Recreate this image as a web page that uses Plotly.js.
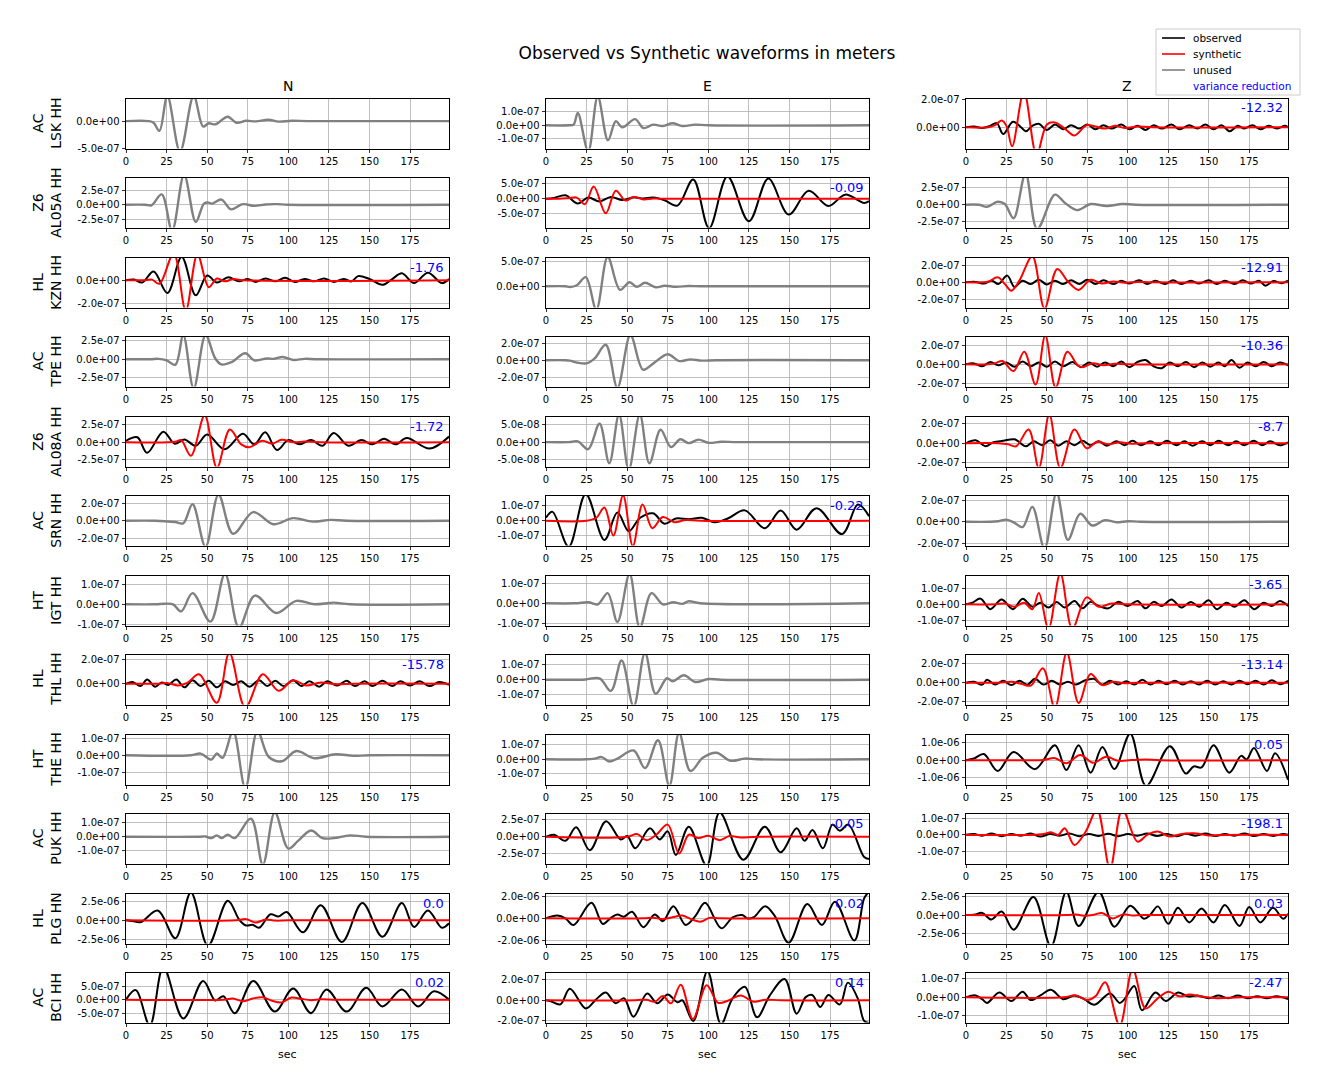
<!DOCTYPE html>
<html><head><meta charset="utf-8">
<script src="https://cdn.plot.ly/plotly-3.0.1.min.js"></script>
<style>html,body{margin:0;padding:0;background:#fff}#chart{width:1329px;height:1091px}</style>
</head><body><div id="chart"></div>
<script>
// ---------------- DATA ----------------
const COMPONENTS = ['N','E','Z'];
const NETWORKS = ['AC','Z6','HL','AC','Z6','AC','HT','HL','HT','AC','HL','AC'];
const STATIONS = ['LSK','AL05A','KZN','TPE','AL08A','SRN','IGT','THL','THE','PUK','PLG','BCI'];
const CHANNELS = ['HH','HH','HH','HH','HH','HH','HH','HH','HH','HH','HN','HH'];
const X_TICKS = [0,25,50,75,100,125,150,175];
const VR_TEXT = [['','','-12.32'],['','-0.09',''],['-1.76','','-12.91'],['','','-10.36'],['-1.72','','-8.7'],['','-0.22',''],['','','-3.65'],['-15.78','','-13.14'],['','','0.05'],['','-0.05','-198.1'],['0.0','0.02','0.03'],['0.02','0.14','-2.47']];
const UNIT = [[1e-7,1e-7,1e-7],[1e-7,1e-7,1e-7],[1e-7,1e-7,1e-7],[1e-7,1e-7,1e-7],[1e-7,1e-7,1e-7],[1e-7,1e-7,1e-7],[1e-7,1e-7,1e-7],[1e-7,1e-7,1e-7],[1e-7,1e-7,1e-6],[1e-7,1e-7,1e-7],[1e-6,1e-6,1e-6],[1e-7,1e-7,1e-7]];
const Y_LO = [[-5.05,-1.70,-1.56],[-3.97,-9.67,-3.38],[-2.35,-4.2,-3.0],[-3.65,-3.06,-2.3],[-3.43,-0.69,-2.36],[-2.86,-1.67,-2.23],[-1.05,-1.1,-1.31],[-1.75,-1.67,-2.26],[-1.7,-1.72,-1.37],[-1.93,-3.97,-1.7],[-3.1,-2.27,-3.9],[-8.4,-2.15,-1.35]];
const Y_HI = [[4.07,1.93,2.07],[4.66,7.0,3.97],[1.91,5.6,2.9],[2.97,2.7,2.84],[3.57,0.71,2.67],[2.86,1.67,2.42],[1.4,1.35,1.75],[2.42,1.67,2.87],[1.18,1.66,1.43],[1.64,3.38,1.24],[3.5,2.2,2.9],[9.8,2.63,1.3]];
const Y_STEP = [[5,1,2],[2.5,5,2.5],[2,5,2],[2.5,2,2],[2.5,0.5,2],[2,1,2],[1,1,1],[2,1,2],[1,1,1],[1,2.5,1],[2.5,2,2.5],[5,2,1]];

// waveforms: [time s, amplitude in panel units]
const LSK_N_obs = [[0,0],[14,0],[17,-0.3],[20.6,-1.8],[25.5,4.6],[33.3,-5.6],[41.7,4.6],[47.5,-1.0],[51,-0.4],[55,-0.6],[62.7,0.8],[68,-0.3],[74,0.05],[80,-0.05],[87.7,0.25],[94,-0.1],[102,0.05],[112,0],[199,0]];
const LSK_E_obs = [[0,0],[14,0],[17,0.05],[19.6,0.9],[26,-1.9],[31.9,2.1],[38.2,-1.1],[43,0.3],[47,-0.15],[54.9,0.45],[60,-0.2],[66,0.05],[72,-0.05],[78,0.15],[84,-0.05],[92,0.05],[100,0],[199,0]];
const LSK_Z_obs = [[0,0],[5,0.05],[10,-0.05],[15,0.1],[19,0.3],[23,-0.5],[29,0.4],[34,0.0],[37,-0.3],[41,0.1],[45,0.25],[50,-0.2],[55,0.2],[60,-0.15],[65,0.15],[70,-0.1],[75,0.2],[80,-0.15],[85,0.15],[90,-0.1],[96,0.2],[101,-0.15],[106,0.1],[111,-0.2],[116,0.15],[121,-0.1],[127,0.2],[132,-0.15],[138,0.15],[143,-0.1],[148,0.2],[153,-0.15],[158,0.15],[163,-0.3],[168,0.1],[172,-0.1],[177,0.15],[182,-0.15],[187,0.1],[192,-0.1],[197,0.1],[199,0]];
const LSK_Z_syn = [[0,0],[14,0],[18,0.15],[22,0.5],[25,0.1],[28.5,-1.4],[35.8,2.6],[43.6,-2.0],[50,0.2],[55,0.35],[61,-0.1],[67,-0.6],[74.5,0.15],[80,0.05],[86,-0.1],[92,0.1],[98,-0.05],[106,0.05],[115,0],[199,0]];

const AL05A_N_obs = [[0,0],[12,0],[15.7,-0.1],[22,1.8],[28.4,-4.5],[35.8,5.2],[43,-3.0],[48,0.2],[50.5,0.4],[53,0.2],[58.8,0.9],[64.7,-0.8],[72,0.1],[79,-0.2],[86,0.05],[93,0.1],[100,0],[199,0]];
const AL05A_E_obs = [[0,0],[5,0.3],[12,1.2],[19.6,-1.6],[26,0.4],[33,-0.9],[40,0.6],[47,-0.4],[54,0.5],[60,0.1],[66,0.4],[73,-0.5],[81,-2.3],[90.7,6.5],[100.5,-9.9],[111.8,7.5],[125,-7.6],[137,6.8],[149.5,-5.3],[161.8,2.7],[174,-2.4],[184.3,1.4],[196,-1.4],[199,-0.8]];
const AL05A_E_syn = [[0,0],[8,0],[14,0.2],[19,0.4],[24,-1.8],[29.4,4.1],[36.8,-4.9],[43,2.7],[49,-0.6],[54,0.6],[60,-0.2],[66,0.1],[72,0],[199,0]];
const AL05A_Z_obs = [[0,0],[8,0],[13,-0.3],[19.6,0.45],[24,0.1],[29.4,-2.0],[36.8,4.6],[44,-3.6],[55,1.5],[61,0.3],[68.6,-0.8],[77,0.1],[87,-0.2],[96.6,0.1],[105,0],[199,0]];

const KZN_N_obs = [[0,0],[5,0.05],[10,-0.2],[17,0.75],[25.5,-1.1],[34.3,2.0],[43,-1.3],[50,0.4],[56,-0.2],[63,0.25],[69.6,-0.1],[75,0.1],[80,-0.15],[86,0.15],[92,-0.1],[98,0.2],[104,-0.15],[110,0.1],[116,-0.1],[122,0.15],[128,-0.15],[134,0.1],[139,-0.1],[143,0.35],[150,0.1],[158,-0.4],[164,0.1],[170,0.6],[177.5,-0.25],[186,0.65],[194.6,-0.25],[199,0.1]];
const KZN_N_syn = [[0,0],[12,0],[16,0.05],[20.6,-0.3],[29.4,2.3],[36.8,-2.6],[44,2.2],[51,-0.6],[56,0.15],[61,-0.1],[66,0.1],[72,0],[199,0]];
const KZN_E_obs = [[0,0],[12,0],[14.7,-0.15],[19,0.2],[24.5,1.8],[31,-4.6],[38,5.8],[45.6,-0.7],[51.5,0.8],[56,-0.1],[61,0.7],[67.6,-0.2],[73,0.1],[80,-0.1],[88,0.05],[95,0],[199,0]];
const KZN_Z_obs = [[0,0],[6,0.05],[11,-0.15],[16,0.2],[20,-0.2],[25.5,0.8],[30,-0.55],[35,0.2],[40,-0.2],[45,0.3],[50,-0.25],[55,0.2],[60,-0.2],[65,0.25],[70,-0.2],[75,0.3],[80,-0.2],[85,0.25],[91,-0.2],[96,0.2],[101,-0.15],[107,0.25],[112,-0.2],[117,0.2],[123,-0.2],[128,0.25],[133,-0.2],[139,0.2],[144,-0.15],[150,0.25],[155,-0.2],[160,0.2],[166,-0.2],[171,0.25],[176,-0.15],[181,0.2],[185,-0.4],[190,0.15],[195,-0.1],[199,0.2]];
const KZN_Z_syn = [[0,0],[10,0],[14,0.1],[19.6,0.6],[24,-0.2],[28,-1.0],[33,0.2],[41,3.1],[48.5,-3.1],[56.4,1.6],[63,0.1],[69.6,-0.9],[77,0.3],[84,-0.15],[91,0.1],[98,-0.05],[106,0.05],[115,0],[199,0]];

const TPE_N_obs = [[0,0],[15,0],[20,0.05],[25,-0.15],[30.4,-0.75],[35.3,3.2],[41.7,-3.9],[49,3.2],[55,0.1],[58.8,-0.7],[65,-0.4],[73.5,0.8],[79,-0.15],[86.8,0.1],[91,0.05],[96.6,0.3],[103,-0.1],[110,0.05],[118,0],[199,0]];
const TPE_E_obs = [[0,0],[12,0],[14.7,-0.05],[19.6,-0.3],[25.5,-0.35],[30,0.2],[36.8,1.8],[44,-3.2],[52,2.9],[59.8,-1.1],[66,-0.4],[75,0.7],[82,-0.1],[89,0.1],[96,-0.05],[105,0],[199,0]];
const TPE_Z_obs = [[0,0],[5,0.1],[10,-0.2],[15,0.25],[20,-0.1],[25,0.2],[30,-0.25],[35,0.3],[40,-0.2],[45,0.2],[50,-0.25],[55,0.3],[60,-0.2],[66,0.25],[71,-0.3],[76,0.2],[81,-0.25],[86,0.2],[91,-0.2],[96,0.3],[101,-0.3],[106,0.25],[111,0.45],[116,-0.2],[121,-0.4],[126,0.2],[131,-0.2],[136,0.25],[141,-0.3],[146,0.2],[151,-0.25],[156,0.2],[160,-0.2],[164,0.45],[169,-0.35],[174,0.2],[179,-0.2],[184,0.25],[189,-0.2],[194,0.2],[199,-0.1]];
const TPE_Z_syn = [[0,0],[14,0],[18,0.1],[22.5,0.35],[29.4,-0.7],[36,1.3],[43,-2.1],[49,3.0],[55.4,-2.4],[62.7,1.3],[69,-0.1],[72,-0.3],[78,0.1],[85,-0.1],[92,0.05],[100,0],[199,0]];

const AL08A_N_obs = [[0,0.2],[7,0.7],[13,-1.5],[23,1.5],[30,-0.2],[36,0.4],[43,-0.5],[50,1.1],[60.8,-1.0],[72,1.2],[79,-0.3],[85.8,1.4],[93,-1.1],[100,0.3],[107,-0.3],[114,0.3],[121,-0.5],[128,1.3],[137,-0.5],[145,0.3],[152,-0.3],[159,0.5],[166,-0.3],[173,0.6],[187,-0.9],[199,0.8]];
const AL08A_N_syn = [[0,0],[26,0],[31,0.1],[34,0.3],[40,-1.9],[48.5,3.8],[56,-3.6],[64,1.8],[71,-0.3],[76,-0.7],[84,0.2],[90,-0.2],[96,0.35],[103,0.0],[110,0.1],[120,0],[199,0]];
const AL08A_E_obs = [[0,0],[14,0],[19.6,0.02],[26,-0.2],[33,0.52],[39,-0.6],[45,0.78],[51,-0.78],[57.8,0.78],[63.7,-0.6],[70.6,0.35],[77,-0.14],[82.8,0.08],[88,-0.03],[94,0.07],[100,-0.02],[108,0.01],[118,0],[199,0]];
const AL08A_Z_obs = [[0,0],[6,0.3],[12,-0.3],[17,0.1],[23,0.25],[30,0.4],[37,-0.3],[42,0.2],[47,-0.2],[52,0.3],[57,-0.25],[62,0.2],[67,-0.2],[72,0.25],[77,-0.2],[82,0.2],[87,-0.25],[93,0.2],[98,-0.2],[103,0.25],[108,-0.2],[114,0.2],[119,-0.2],[124,0.25],[130,-0.2],[135,0.2],[140,-0.25],[146,0.2],[151,-0.2],[156,0.25],[162,-0.2],[167,0.2],[172,-0.2],[178,0.25],[183,-0.2],[188,0.2],[194,-0.2],[199,0.1]];
const AL08A_Z_syn = [[0,0],[20,0],[26,-0.1],[31,-0.3],[38.7,1.4],[45,-2.5],[51.5,2.9],[58.3,-2.5],[67,1.4],[74.5,-0.5],[81,0.15],[88,-0.1],[95,0.1],[102,-0.05],[110,0],[199,0]];

const SRN_N_obs = [[0,0],[18,0],[24,-0.05],[30.4,-0.15],[35.3,-0.3],[41,1.9],[49,-3.0],[57,3.0],[66,-1.5],[78.4,1.0],[90.7,-0.4],[103,0.3],[115,-0.1],[126,0.1],[136,0],[199,0]];
const SRN_E_obs = [[0,0.2],[4,0.6],[14,-1.75],[24.5,1.8],[36,-1.3],[44,0.55],[51,-0.7],[58,0.2],[66,0.5],[73,-0.2],[80,0.15],[88,0.1],[96,0.2],[104,-0.1],[112,0.15],[122.5,0.7],[134.8,-0.5],[144.6,0.7],[154.4,-0.6],[166.7,0.85],[182.4,-0.9],[192.2,1.1],[199,0.3]];
const SRN_E_syn = [[0,0],[25,0],[31,0.2],[36,0.9],[41.5,-1.0],[47.5,1.7],[53.5,-1.7],[59.5,1.1],[65.5,-0.5],[72,0.25],[79,-0.1],[86,0.05],[95,0],[199,0]];
const SRN_Z_obs = [[0,0],[15,0],[20,0.05],[25,0.2],[30,-0.1],[35,-0.5],[41,1.4],[48.5,-2.5],[56,2.7],[63,-1.7],[70.6,0.75],[78,-0.35],[85.8,0.15],[93,-0.05],[100,0.05],[108,0],[199,0]];

const IGT_N_obs = [[0,0],[18,0],[24,0.03],[29,0],[34,-0.35],[41,0.55],[52,-0.86],[61,1.5],[69.6,-1.15],[79.4,0.43],[92.6,-0.43],[104.9,0.17],[116,0],[128,0.08],[138,0],[199,0]];
const IGT_E_obs = [[0,0],[18,0],[26,0.05],[32,-0.05],[38,0.5],[44,-0.92],[51.5,1.45],[57.8,-1.2],[65,0.5],[72,-0.05],[78.4,0.05],[84,-0.03],[88,0.1],[95,0],[199,0]];
const IGT_Z_obs = [[0,0],[4,0.1],[9,0.35],[15,-0.3],[22,0.3],[29,-0.3],[35,0.35],[41,-0.15],[46,0.1],[51,-0.2],[56,0.15],[61,-0.2],[67,0.2],[72,-0.25],[77,0.15],[82,-0.1],[88,-0.25],[94,0.15],[100,-0.1],[106,0.2],[111,-0.25],[116,0.15],[121,-0.1],[127,0.3],[133,-0.2],[139,0.15],[144,-0.15],[150,0.25],[155,-0.3],[161,0.1],[166,-0.15],[172,0.25],[178,-0.3],[184,0.1],[189,-0.1],[194,0.2],[199,-0.1]];
const IGT_Z_syn = [[0,0],[18,0],[24,0.05],[30,-0.15],[36,0.1],[41,-0.3],[45,0.7],[51,-1.5],[58.3,1.9],[65.7,-1.5],[74.5,0.43],[82,-0.15],[90,0.05],[100,0],[199,0]];

const THL_N_obs = [[0,0],[4,0.15],[9,-0.2],[13,0.35],[18,-0.25],[22,0.1],[26,-0.1],[31,0.35],[36,-0.3],[41,0.3],[46,-0.2],[51,0.25],[56,-0.3],[61,0.2],[66,-0.1],[71,0.2],[76,-0.25],[82,0.3],[87,-0.2],[92,0.25],[97,-0.2],[103,0.3],[108,-0.2],[113,0.2],[119,-0.25],[124,0.2],[130,-0.15],[136,0.25],[141,-0.2],[147,0.2],[152,-0.2],[158,0.25],[164,-0.2],[169,0.2],[175,-0.15],[181,0.2],[187,-0.2],[193,0.15],[199,-0.1]];
const THL_N_syn = [[0,0],[20,0],[26,0.05],[32,-0.15],[38,0.1],[45,0.8],[55.9,-1.6],[63.7,2.6],[73.5,-2.0],[84.3,0.8],[94,-0.6],[103,0.3],[111,-0.15],[120,0.1],[130,-0.05],[140,0],[199,0]];
const THL_E_obs = [[0,0],[20,0],[24.5,0.02],[33,0.1],[40,-0.75],[46.6,1.3],[54,-1.8],[61,1.8],[67.6,-0.95],[74.5,0.1],[78,-0.1],[85,0.3],[92,-0.15],[100,0.05],[108,0],[199,0]];
const THL_Z_obs = [[0,0],[5,0.1],[10,-0.2],[13,0.3],[18,-0.2],[23,0.2],[28,-0.25],[33,0.2],[38,-0.2],[42.6,0.4],[48,-0.2],[53,0.2],[58,-0.2],[63,0.1],[68,-0.2],[73,0.2],[79,0.4],[84,-0.2],[89,0.2],[94,-0.2],[99,0.15],[104,-0.2],[109,0.3],[114,-0.2],[119,0.2],[124,-0.15],[129,0.2],[134,-0.2],[139,0.15],[144,-0.2],[149,0.2],[154,-0.2],[159,0.15],[164,-0.2],[169,0.2],[174,-0.15],[179,0.2],[184,-0.2],[189,0.25],[194,-0.15],[199,0.2]];
const THL_Z_syn = [[0,0],[20,0],[28,0.1],[34,-0.1],[40,-0.3],[47.5,1.5],[54.9,-2.6],[62.3,3.1],[69.6,-2.1],[77,0.9],[84.3,-0.25],[91,0.1],[98,-0.05],[106,0],[199,0]];

const THE_N_obs = [[0,0],[40,0],[46,0.1],[52.5,-0.25],[56,0.1],[59.5,-0.15],[66,1.4],[73.5,-1.9],[81,1.4],[88,-0.1],[96,-0.35],[105,0.25],[116,-0.17],[129,0.06],[140,-0.03],[150,0],[199,0]];
const THE_E_obs = [[0,0],[25,0],[30,0.05],[34.3,0.15],[39,-0.15],[44,0.05],[54,0.6],[61,-0.6],[69,1.3],[76,-1.8],[82,1.8],[89,-0.8],[96.6,0.1],[105,0.45],[113.7,-0.1],[122.5,0.05],[130,0],[199,0]];
const THE_Z_obs = [[0,0],[5,0.1],[11,0.35],[19.6,-0.6],[29.4,0.47],[42.6,-0.5],[55,0.85],[62,-0.55],[69.6,0.85],[77,-0.7],[84.3,0.75],[91.7,-0.5],[101.5,1.5],[111.3,-1.45],[126,0.8],[135.8,-0.75],[140.7,-0.35],[145.6,-0.4],[153,0.85],[162.7,-0.7],[170,0.25],[173.5,0.05],[178,0.7],[186,-0.6],[191,0.4],[199,-1.1]];
const THE_Z_syn = [[0,0],[40,0],[48,0.02],[55,0.12],[62,-0.17],[70.6,0.3],[78.4,-0.14],[86.8,0.2],[94,-0.03],[102,0.01],[111,0.04],[120,0],[199,0]];

const PUK_N_obs = [[0,0],[45,0],[49,0.02],[52.5,-0.1],[56,0.1],[59,-0.1],[62.7,0.15],[67,-0.1],[77,1.3],[84.3,-2.0],[91.7,1.75],[100,-0.85],[106,-0.3],[114,0.45],[121,-0.1],[128,-0.1],[138,0.1],[148,0],[199,0]];
const PUK_E_obs = [[0,0],[5,0.3],[12,-0.6],[18.6,1.4],[27,-2.0],[37,2.3],[46,-0.4],[50,0.1],[55,-1.7],[64,1.25],[70,-0.4],[75,0.8],[80,-2.7],[88,1.5],[99,-4.3],[107,3.6],[121.6,-3.4],[134.8,1.5],[144.6,-2.3],[154.4,1.25],[159.3,-0.6],[164.2,1.0],[170.6,-1.7],[176.5,1.8],[181,0.9],[186.3,1.8],[196,-3.0],[199,-3.3]];
const PUK_E_syn = [[0,0],[50,0],[56,0.4],[62,-0.5],[68,0.3],[75,1.8],[82,-2.5],[88,0.3],[94,-0.2],[100,0.15],[107,-0.5],[113,0.1],[120,-0.1],[130,0],[199,0]];
const PUK_Z_obs = [[0,0],[5,0.05],[10,-0.05],[16,0.08],[22,-0.08],[28,0.05],[34,-0.05],[40,0.08],[46,-0.1],[52,0.05],[58,-0.05],[64,0.08],[70,-0.08],[76,0.05],[82,-0.06],[88,0.06],[94,-0.08],[100,0.05],[106,-0.05],[112,0.08],[118,-0.06],[124,0.05],[130,-0.08],[136,0.06],[142,-0.05],[148,0.08],[154,-0.06],[160,0.05],[166,-0.05],[172,0.08],[178,-0.06],[184,0.05],[190,-0.06],[196,0.05],[199,0]];
const PUK_Z_syn = [[0,0],[40,0],[48,0.05],[52.5,0.15],[57,0.0],[61,0.4],[67,-0.6],[74,0.2],[81,1.5],[89,-2.0],[96.6,1.5],[106,-0.4],[112,0.0],[118.6,0.2],[126,-0.1],[133,0.05],[140.7,0.1],[150,-0.03],[160,0],[199,0]];

const PLG_N_obs = [[0,0],[4,-0.1],[9,-0.25],[19.6,1.3],[30.4,-2.4],[40,3.7],[50.5,-3.4],[62.7,2.6],[70,0.0],[74,-0.7],[78,-0.6],[82,-1.0],[89,0.8],[94,0.5],[99,1.1],[109,-1.6],[120,2.0],[133,-2.9],[145.6,2.3],[158,-2.2],[170,2.3],[177.5,-0.9],[186,1.3],[194.6,-1.0],[199,-0.4]];
const PLG_N_syn = [[0,0],[68,0],[74,0.15],[80,-0.3],[86,0.1],[92,-0.05],[100,0],[199,0]];
const PLG_E_obs = [[0,0],[7,0.25],[12,0.0],[17,-0.6],[28,1.4],[35,-0.5],[40,0.05],[44,0.35],[48,0.15],[53,0.6],[60,-0.8],[67,0.35],[72,-0.25],[78.5,1.1],[86,-0.6],[92,0.2],[98,1.4],[108,-0.9],[115,0.1],[121,0.3],[124,0.0],[128,0.1],[135,1.1],[141,0.2],[149.5,-2.2],[161,1.3],[170,-0.6],[178,1.5],[190,-2.0],[196,1.8],[199,2.4]];
const PLG_E_syn = [[0,0],[60,0],[66,0.05],[72,-0.05],[78,0.1],[84,0.25],[90,-0.1],[95,-0.3],[101,0.05],[108,0],[199,0]];
const PLG_Z_obs = [[0,0],[5,0.05],[10,0.3],[15.7,-0.6],[22,0.5],[29.4,-2.0],[41.7,2.5],[52.5,-4.3],[62,3.2],[69.6,-1.5],[82,3.2],[91.7,-1.6],[101.5,1.3],[110,-0.5],[113.7,0.0],[118.6,1.2],[125,-1.2],[131,1.0],[138,-1.0],[145.6,0.9],[153,-1.0],[160,1.4],[169,-1.5],[175,1.1],[182,-1.0],[189.7,1.0],[196,-0.5],[199,0.2]];
const PLG_Z_syn = [[0,0],[62,0],[68,0.08],[74,-0.1],[79,0.05],[84,0.3],[90.7,-0.45],[97,0.1],[103,-0.05],[110,0],[199,0]];

const BCI_N_obs = [[0,0],[6,3.5],[14.7,-9.5],[23,12],[35.3,-6.9],[47.5,6.9],[55,-0.3],[60,1.25],[67,-5.0],[78.4,6.9],[91.7,-4.4],[103,4.1],[114,-5.0],[123.5,3.75],[136,-4.4],[148,4.4],[158,-2.5],[170,3.75],[180,-2.5],[189.7,3.1],[199,0]];
const BCI_N_syn = [[0,0],[60,0],[66,0.4],[72,-0.6],[78,0.4],[84,0.9],[90,-0.4],[96,-1.0],[102,0.8],[108,0.3],[114,-0.2],[120,0.15],[130,0],[199,0]];
const BCI_E_obs = [[0,0],[3,-0.1],[8.8,-0.4],[14.7,1.1],[24.5,-0.8],[31,0.1],[36.8,0.75],[43,-0.3],[48,0.2],[53.9,-1.6],[62.3,0.65],[68.6,-0.3],[75,0.55],[81,-0.2],[84,0.0],[90.7,-2.0],[99.5,2.8],[107.8,-2.3],[115,0.2],[122.5,1.3],[130,-1.65],[138,0.5],[147,2.05],[154.4,-1.3],[160,0.3],[164,0.5],[169,-0.65],[174,0.5],[181,-0.4],[186,1.7],[192,0.2],[196,-2.0],[199,-2.2]];
const BCI_E_syn = [[0,0],[55,0],[62,0.05],[67,-0.15],[72,0.4],[77,-0.3],[83,1.5],[90.5,-1.8],[99,1.45],[106,-0.25],[112,-0.05],[120,0.45],[128,-0.15],[135,0.05],[145,0],[199,0]];
const BCI_Z_obs = [[0,0],[6,0.1],[10,-0.1],[13,-0.3],[20.6,0.25],[28,-0.2],[35,0.3],[40,-0.15],[46,0.1],[52.5,0.4],[60,-0.1],[67,0.1],[73,-0.1],[79.4,-0.4],[89,0.2],[95,-0.3],[98,-0.1],[104,0.6],[108.8,-0.7],[117,0.25],[123.5,-0.2],[131,0.25],[137,0.05],[143,0.1],[150,-0.05],[156,0.1],[162,-0.05],[168,0.1],[174,-0.05],[180,0.05],[186,-0.05],[192,0.05],[199,-0.1]];
const BCI_Z_syn = [[0,0],[60,0],[68,0.1],[75,-0.15],[80,0.05],[86,0.8],[95,-1.5],[103,1.5],[111,-0.6],[118,-0.1],[125,0.3],[132,0.05],[138,0.15],[145,0.05],[155,-0.05],[170,0],[199,0]];

const OBS = [
  [LSK_N_obs, LSK_E_obs, LSK_Z_obs],
  [AL05A_N_obs, AL05A_E_obs, AL05A_Z_obs],
  [KZN_N_obs, KZN_E_obs, KZN_Z_obs],
  [TPE_N_obs, TPE_E_obs, TPE_Z_obs],
  [AL08A_N_obs, AL08A_E_obs, AL08A_Z_obs],
  [SRN_N_obs, SRN_E_obs, SRN_Z_obs],
  [IGT_N_obs, IGT_E_obs, IGT_Z_obs],
  [THL_N_obs, THL_E_obs, THL_Z_obs],
  [THE_N_obs, THE_E_obs, THE_Z_obs],
  [PUK_N_obs, PUK_E_obs, PUK_Z_obs],
  [PLG_N_obs, PLG_E_obs, PLG_Z_obs],
  [BCI_N_obs, BCI_E_obs, BCI_Z_obs]
];
const SYN = [
  [null, null, LSK_Z_syn],
  [null, AL05A_E_syn, null],
  [KZN_N_syn, null, KZN_Z_syn],
  [null, null, TPE_Z_syn],
  [AL08A_N_syn, null, AL08A_Z_syn],
  [null, SRN_E_syn, null],
  [null, null, IGT_Z_syn],
  [THL_N_syn, null, THL_Z_syn],
  [null, null, THE_Z_syn],
  [null, PUK_E_syn, PUK_Z_syn],
  [PLG_N_syn, PLG_E_syn, PLG_Z_syn],
  [BCI_N_syn, BCI_E_syn, BCI_Z_syn]
];

// ---------------- LAYOUT ----------------
const W = 1329, H = 1091;
const COL_L = [126, 546, 966], COL_R = [449, 869, 1288];
const ROW_T = [99,178,258,337,417,496,576,655,735,814,894,973];
const ROW_H = 49.5;
const FONT = 'DejaVu Sans, Liberation Sans, sans-serif';

function fx(px){ return px / W; }
function fy(py){ return 1 - py / H; }
function fmtTick(v){
  let s = v.toExponential(1);
  return s.replace(/e([+-])(\d)$/, 'e$10$2');
}

const traces = [];
const layout = {
  width: W, height: H,
  margin: {l:0, r:0, t:0, b:0},
  paper_bgcolor: '#ffffff', plot_bgcolor: '#ffffff',
  showlegend: false,
  font: {family: FONT, color: '#000000', size: 10},
  annotations: [], shapes: []
};

for (let r = 0; r < 12; r++) {
  for (let c = 0; c < 3; c++) {
    const n = r * 3 + c + 1;
    const xa = n === 1 ? 'x' : 'x' + n;
    const ya = n === 1 ? 'y' : 'y' + n;
    const u = UNIT[r][c];
    const used = SYN[r][c] !== null;
    const obs = OBS[r][c];
    traces.push({
      x: obs.map(p => p[0]), y: obs.map(p => p[1] * u),
      xaxis: xa, yaxis: ya, mode: 'lines', hoverinfo: 'skip',
      line: {color: used ? '#000000' : '#808080', width: used ? 2 : 2.4, shape: 'spline', smoothing: 1}
    });
    if (used) {
      const syn = SYN[r][c];
      traces.push({
        x: syn.map(p => p[0]), y: syn.map(p => p[1] * u),
        xaxis: xa, yaxis: ya, mode: 'lines', hoverinfo: 'skip',
        line: {color: '#ff0000', width: 2, shape: 'spline', smoothing: 1}
      });
    }
    const step = Y_STEP[r][c];
    const k0 = Math.ceil(Y_LO[r][c] / step - 1e-9), k1 = Math.floor(Y_HI[r][c] / step + 1e-9);
    const tv = [], tt = [];
    for (let k = k0; k <= k1; k++) { tv.push(k * step * u); tt.push(fmtTick(k * step * u)); }
    const common = {
      showline: true, linecolor: '#000000', linewidth: 1, mirror: true,
      ticks: 'outside', ticklen: 3.5, tickwidth: 0.8, tickcolor: '#000000',
      zeroline: false, showgrid: true, gridcolor: '#b0b0b0', gridwidth: 0.8,
      tickfont: {family: FONT, size: 10, color: '#000000'}, fixedrange: true
    };
    layout['xaxis' + (n === 1 ? '' : n)] = Object.assign({}, common, {
      domain: [fx(COL_L[c]), fx(COL_R[c])], anchor: ya,
      range: [0, 199], tickmode: 'array', tickvals: X_TICKS, ticktext: X_TICKS.map(String)
    });
    layout['yaxis' + (n === 1 ? '' : n)] = Object.assign({}, common, {
      domain: [fy(ROW_T[r] + ROW_H), fy(ROW_T[r])], anchor: xa,
      range: [Y_LO[r][c] * u, Y_HI[r][c] * u], tickmode: 'array', tickvals: tv, ticktext: tt
    });
    if (VR_TEXT[r][c] !== '') {
      layout.annotations.push({
        xref: 'paper', yref: 'paper', x: fx(COL_R[c] - 3), y: fy(ROW_T[r] + 9),
        xanchor: 'right', yanchor: 'middle', showarrow: false,
        text: VR_TEXT[r][c], font: {family: FONT, size: 13, color: '#0000ff'}
      });
    }
  }
  // row label (network / station channel), left of the tick labels
  layout.annotations.push({
    xref: 'paper', yref: 'paper', x: fx(66), y: fy(ROW_T[r] + ROW_H / 2),
    xanchor: 'right', yanchor: 'middle', showarrow: false, textangle: -90,
    text: NETWORKS[r] + '<br>' + STATIONS[r] + ' ' + CHANNELS[r],
    font: {family: FONT, size: 14, color: '#000000'}
  });
}

for (let c = 0; c < 3; c++) {
  const cx = (COL_L[c] + COL_R[c]) / 2;
  layout.annotations.push({xref:'paper', yref:'paper', x: fx(cx), y: fy(86), xanchor:'center', yanchor:'middle', showarrow:false,
    text: COMPONENTS[c], font:{family: FONT, size: 14, color:'#000000'}});
  layout.annotations.push({xref:'paper', yref:'paper', x: fx(cx), y: fy(1054), xanchor:'center', yanchor:'middle', showarrow:false,
    text: 'sec', font:{family: FONT, size: 11, color:'#000000'}});
}
layout.title = {text: 'Observed vs Synthetic waveforms in meters', x: fx(707), xanchor: 'center', y: fy(53), yanchor: 'middle',
  font: {family: FONT, size: 17, color: '#000000'}};

const LEG_LABELS = ['observed', 'synthetic', 'unused', 'variance reduction'];
const LEG_COLORS = ['#000000', '#ff0000', '#808080', null];
const LEG_TEXTCOL = ['#000000', '#000000', '#000000', '#0000ff'];
layout.shapes.push({type:'rect', xref:'paper', yref:'paper', x0: fx(1156), x1: fx(1300), y0: fy(95), y1: fy(29),
  line:{color:'#cccccc', width:1}, fillcolor:'rgba(255,255,255,0.8)'});
LEG_LABELS.forEach((lab, i) => {
  const yy = 38 + i * 16;
  if (LEG_COLORS[i]) layout.shapes.push({type:'line', xref:'paper', yref:'paper', x0: fx(1162), x1: fx(1185), y0: fy(yy), y1: fy(yy),
    line:{color: LEG_COLORS[i], width: 1.6}});
  layout.annotations.push({xref:'paper', yref:'paper', x: fx(1191), y: fy(yy), xanchor:'left', yanchor:'middle', showarrow:false,
    text: lab, font:{family: FONT, size: 10.5, color: LEG_TEXTCOL[i]}});
});

Plotly.newPlot('chart', traces, layout, {staticPlot: true, displayModeBar: false});
</script></body></html>
